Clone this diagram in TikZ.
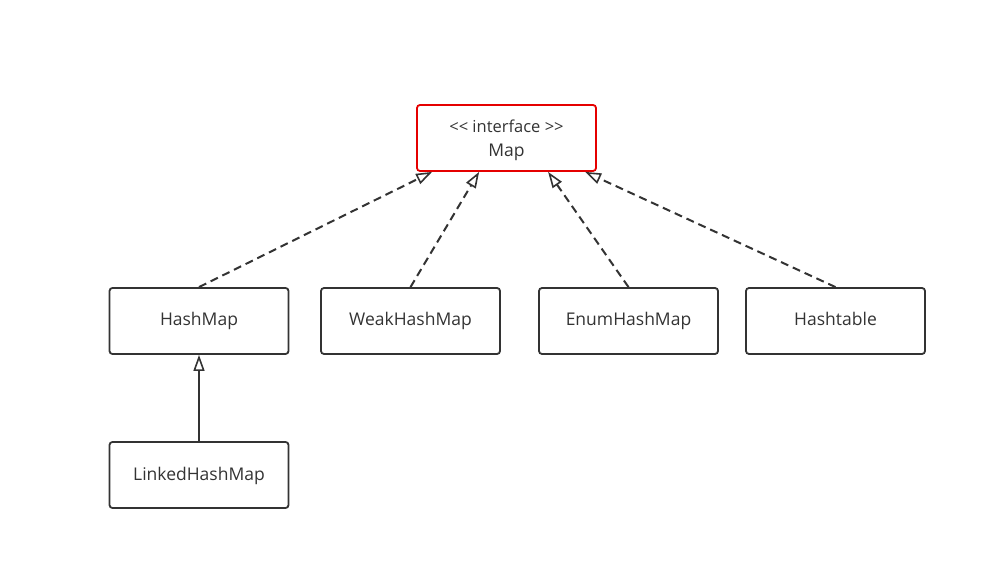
\documentclass[tikz,border=0pt]{standalone}
\usepackage{fontspec}
\setmainfont{Open Sans}
\usetikzlibrary{arrows.meta,calc}
\begin{document}
\begin{tikzpicture}[x=1pt,y=-1pt,
  boxbase/.style={draw=black!80,line width=1.8pt,rounded corners=3pt,minimum width=179pt,minimum height=66pt,inner sep=0pt,font=\fontsize{17.5}{24}\selectfont,text=black!80,align=center},
  cls/.style={boxbase,text height=14pt,text depth=4pt},
  iface/.style={boxbase,draw=red!90!black},
  tipstyle/.style={-{Triangle[open,length=16pt,width=11pt,line width=1.6pt]}},
  realize/.style={draw=black!80,line width=2pt,dash pattern=on 8pt off 5pt,tipstyle},
  inherit/.style={draw=black!80,line width=2pt,tipstyle}]
\useasboundingbox (0,0) rectangle (986,569);
\node[iface] (map) at (506.5,138) {{\fontsize{16.5}{24}\selectfont\rule{0pt}{17pt}{<}{<} interface {>}{>}}\\Map};
\node[cls] (hashmap) at (199,321) {HashMap};
\node[cls] (weak) at (410.5,321) {WeakHashMap};
\node[cls] (enum) at (628.5,321) {EnumHashMap};
\node[cls] (hashtable) at (835.5,321) {Hashtable};
\node[cls] (linked) at (199,475) {LinkedHashMap};
\coordinate (m1) at ($(map.south west)+(16,0)$);
\coordinate (m2) at ($(map.south west)+(63,0)$);
\coordinate (m3) at ($(map.south west)+(132,0)$);
\coordinate (m4) at ($(map.south west)+(169,0)$);
\draw[realize] (hashmap.north) -- (m1);
\draw[realize] (weak.north) -- (m2);
\draw[realize] (enum.north) -- (m3);
\draw[realize] (hashtable.north) -- (m4);
\draw[inherit] (linked.north) -- (hashmap.south);
\end{tikzpicture}
\end{document}
